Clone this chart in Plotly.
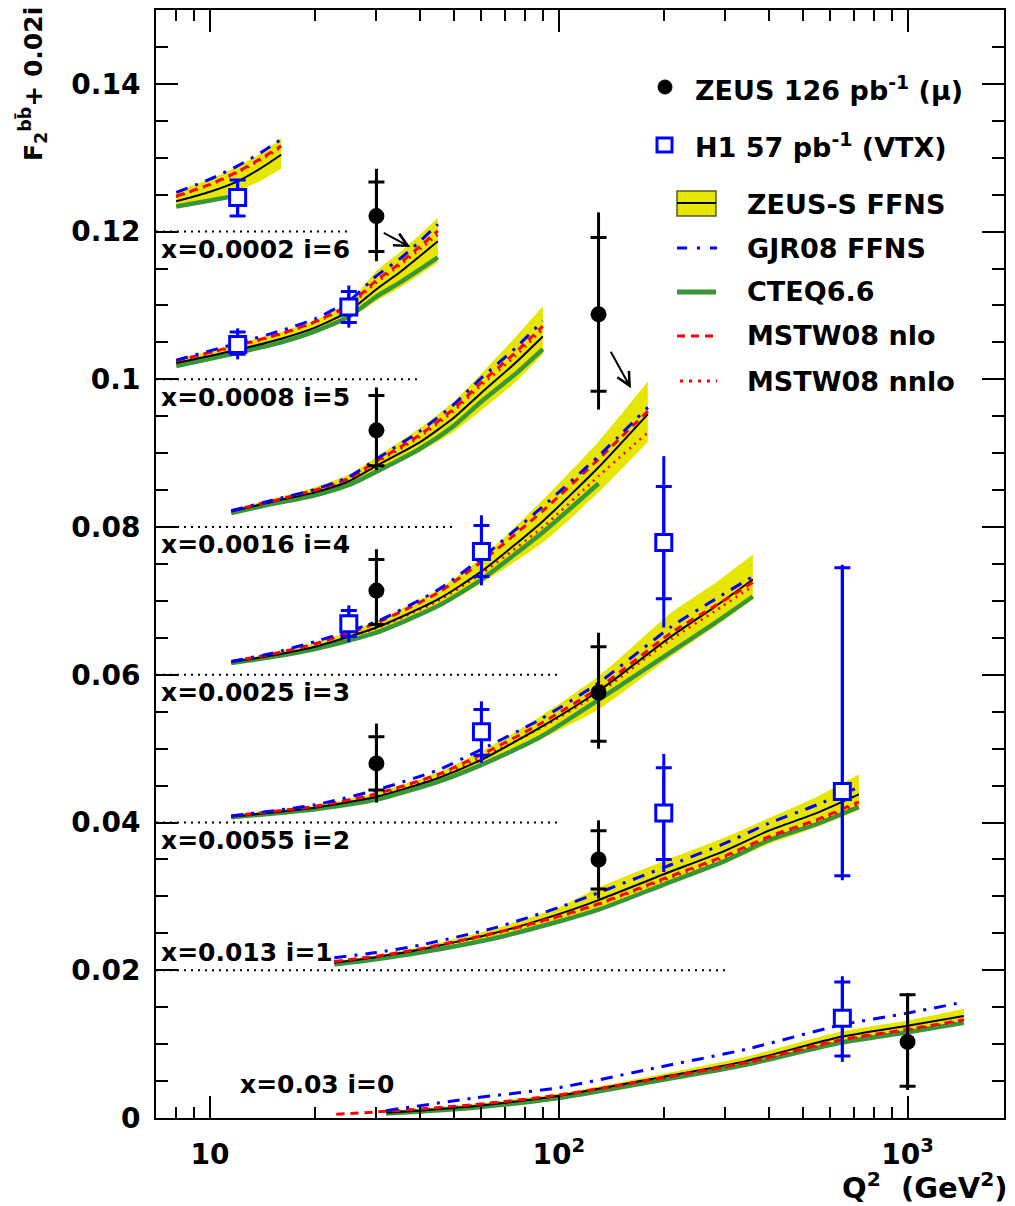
import plotly.graph_objects as go
import math

# ---------------- data ----------------
OFFSET_STEP = 0.02
BIN_LABELS = ["x=0.03 i=0", "x=0.013 i=1", "x=0.0055 i=2", "x=0.0025 i=3",
              "x=0.0016 i=4", "x=0.0008 i=5", "x=0.0002 i=6"]
DOTTED_END_Q2 = [None, 300, 100, 100, 50, 40, 25]

Q2_GRID = [
    [23, 32, 57, 100, 190, 344, 645, 1000, 1450],
    [22.7, 30, 40, 65, 100, 130, 200, 300, 400, 550, 725],
    [11.5, 20, 30, 45, 60, 88, 130, 210, 280, 360],
    [11.5, 15, 20, 30, 45, 60, 90, 130, 180],
    [11.5, 15, 20, 25, 30, 40, 50, 60, 75, 90],
    [8, 12, 16, 20, 25, 30, 35, 40, 45],
    [8, 10, 12, 14, 16],
]

ZEUS_S_CENTRAL = [
    [None, 0.0007, 0.0016, 0.0030, 0.0054, 0.0077, 0.0110, 0.0125, 0.0138],
    [0.0010, 0.0018, 0.0028, 0.0050, 0.0076, 0.0095, 0.0130, 0.0162, 0.0189, 0.0213, 0.0238],
    [0.0008, 0.0020, 0.0035, 0.0060, 0.0085, 0.0128, 0.0178, 0.0252, 0.0292, 0.0329],
    [0.0017, 0.0026, 0.0038, 0.0064, 0.0102, 0.0140, 0.0208, 0.0281, 0.0353],
    [0.0021, 0.0034, 0.0047, 0.0062, 0.0083, 0.0115, 0.0148, 0.0182, 0.0222, 0.0258],
    [0.0022, 0.0040, 0.0055, 0.0070, 0.0092, 0.0122, 0.0145, 0.0167, 0.0187],
    [0.0041, 0.0054, 0.0068, 0.0086, 0.0104],
]
ZEUS_S_LOW = [
    [None, 0.0005, 0.0014, 0.0027, 0.0050, 0.0073, 0.0104, 0.0118, 0.0133],
    [0.0008, 0.0015, 0.0024, 0.0044, 0.0067, 0.0080, 0.0114, 0.0145, 0.0171, 0.0194, 0.0217],
    [0.0006, 0.0017, 0.0030, 0.0053, 0.0075, 0.0112, 0.0153, 0.0225, 0.0265, 0.0302],
    [0.0015, 0.0023, 0.0034, 0.0056, 0.0090, 0.0124, 0.0179, 0.0247, 0.0315],
    [0.0019, 0.0030, 0.0041, 0.0055, 0.0073, 0.0102, 0.0129, 0.0158, 0.0196, 0.0234],
    [0.0017, 0.0034, 0.0048, 0.0062, 0.0082, 0.0106, 0.0124, 0.0142, 0.0158],
    [0.0032, 0.0043, 0.0055, 0.0069, 0.0085],
]
ZEUS_S_HIGH = [
    [None, 0.0009, 0.0019, 0.0033, 0.0058, 0.0083, 0.0117, 0.0132, 0.0148],
    [0.0012, 0.0020, 0.0031, 0.0056, 0.0085, 0.0112, 0.0148, 0.0180, 0.0206, 0.0235, 0.0265],
    [0.0010, 0.0023, 0.0040, 0.0068, 0.0096, 0.0143, 0.0198, 0.0284, 0.0324, 0.0363],
    [0.0019, 0.0029, 0.0043, 0.0073, 0.0115, 0.0158, 0.0237, 0.0316, 0.0397],
    [0.0023, 0.0038, 0.0054, 0.0071, 0.0095, 0.0134, 0.0170, 0.0208, 0.0257, 0.0299],
    [0.0027, 0.0048, 0.0064, 0.0080, 0.0104, 0.0147, 0.0172, 0.0196, 0.0219],
    [0.0055, 0.0071, 0.0088, 0.0106, 0.0126],
]
GJR08 = [
    [None, 0.0010, 0.0027, 0.0041, 0.0068, 0.0093, 0.0126, 0.0142, 0.0157],
    [0.0017, 0.0024, 0.0034, 0.0057, 0.0085, 0.0105, 0.0139, 0.0172, 0.0199, 0.0224, 0.0248],
    [0.0009, 0.0024, 0.0044, 0.0071, 0.0099, 0.0139, 0.0189, 0.0265, 0.0302, 0.0333],
    [0.0018, 0.0029, 0.0045, 0.0072, 0.0115, 0.0158, 0.0228, 0.0296, 0.0362],
    [0.0022, 0.0036, 0.0051, 0.0068, 0.0092, 0.0130, 0.0166, 0.0202, 0.0242, 0.0279],
    [0.0026, 0.0049, 0.0066, 0.0082, 0.0106, 0.0140, 0.0163, 0.0187, 0.0210],
    [0.0053, 0.0071, 0.0089, 0.0107, 0.0125],
]
CTEQ66 = [
    [None, 0.0006, 0.0014, 0.0027, 0.0050, 0.0072, 0.0102, 0.0116, 0.0129],
    [0.0008, 0.0015, 0.0024, 0.0043, 0.0066, 0.0082, 0.0116, 0.0148, 0.0176, 0.0198, 0.0221],
    [0.0007, 0.0018, 0.0031, 0.0055, 0.0078, 0.0115, 0.0166, 0.0231, 0.0270, 0.0306],
    [0.0016, 0.0024, 0.0035, 0.0057, 0.0093, 0.0129, 0.0193, 0.0259, None],
    [0.0019, 0.0031, 0.0043, 0.0057, 0.0075, 0.0106, 0.0137, 0.0170, 0.0207, 0.0241],
    [0.0018, 0.0036, 0.0050, 0.0065, 0.0085, 0.0112, 0.0131, 0.0149, 0.0165],
    [0.0034, 0.0042, 0.0049, None, None],
]
MSTW08_NLO = [
    [0.0005, 0.0009, 0.0018, 0.0031, 0.0053, 0.0075, 0.0106, 0.0120, 0.0133],
    [0.0012, 0.0019, 0.0029, 0.0050, 0.0073, 0.0090, 0.0124, 0.0155, 0.0181, 0.0204, 0.0228],
    [0.0009, 0.0022, 0.0039, 0.0065, 0.0092, 0.0133, 0.0182, 0.0257, 0.0293, 0.0325],
    [0.0018, 0.0028, 0.0042, 0.0070, 0.0111, 0.0153, 0.0222, 0.0292, 0.0357],
    [0.0022, 0.0035, 0.0050, 0.0066, 0.0089, 0.0125, 0.0160, 0.0196, 0.0236, 0.0272],
    [0.0025, 0.0046, 0.0062, 0.0078, 0.0101, 0.0134, 0.0157, 0.0180, 0.0201],
    [0.0048, 0.0064, 0.0081, 0.0099, 0.0116],
]
MSTW08_NNLO = [
    [None, 0.0008, 0.0017, 0.0030, 0.0052, 0.0074, 0.0105, 0.0119, 0.0132],
    [0.0011, 0.0018, 0.0028, 0.0049, 0.0072, 0.0089, 0.0122, 0.0153, 0.0179, 0.0202, 0.0225],
    [0.0008, 0.0021, 0.0037, 0.0062, 0.0088, 0.0127, 0.0175, 0.0248, 0.0286, 0.0320],
    [0.0017, 0.0026, 0.0038, 0.0063, 0.0100, 0.0137, 0.0200, 0.0269, 0.0328],
    [0.0021, 0.0035, 0.0049, 0.0065, 0.0087, 0.0122, 0.0157, 0.0192, 0.0231, 0.0268],
    [0.0024, 0.0045, 0.0061, 0.0077, 0.0099, 0.0131, 0.0154, 0.0176, 0.0196],
    [0.0047, 0.0063, 0.0080, 0.0097, 0.0114],
]

# ZEUS 126 pb-1 (muons)
ZEUS_BIN = [6, 5, 4, 3, 2, 2, 1, 0]
ZEUS_Q2 = [30, 130, 30, 30, 30, 130, 130, 1000]
ZEUS_F2 = [0.0021, 0.0088, 0.0131, 0.0114, 0.0080, 0.0176, 0.0150, 0.0103]
ZEUS_STAT_UP = [0.0046, 0.0104, 0.0047, 0.0042, 0.0036, 0.0062, 0.0039, 0.0064]
ZEUS_STAT_DN = [0.0048, 0.0104, 0.0048, 0.0046, 0.0036, 0.0066, 0.0040, 0.0060]
ZEUS_TOT_UP = [0.0064, 0.0138, 0.0058, 0.0056, 0.0054, 0.0081, 0.0053, 0.0066]
ZEUS_TOT_DN = [0.0061, 0.0129, 0.0054, 0.0050, 0.0053, 0.0076, 0.0053, 0.0065]

# H1 57 pb-1 (VTX)
H1_BIN = [6, 5, 5, 3, 3, 3, 2, 1, 1, 0]
H1_Q2 = [12, 12, 25, 25, 60, 200, 60, 200, 650, 650]
H1_F2 = [0.0046, 0.0047, 0.0098, 0.0069, 0.0167, 0.0179, 0.0123, 0.0213, 0.0242, 0.0135]
H1_STAT_UP = [0.0024, 0.0017, 0.0021, 0.0018, 0.0035, 0.0076, 0.0030, 0.0061, 0.0303, 0.0049]
H1_STAT_DN = [0.0025, 0.0013, 0.0021, 0.0017, 0.0034, 0.0076, 0.0032, 0.0063, 0.0114, 0.0051]
H1_TOT_UP = [0.0024, 0.0022, 0.0029, 0.0025, 0.0049, 0.0117, 0.0041, 0.0080, 0.0307, 0.0057]
H1_TOT_DN = [0.0025, 0.0020, 0.0028, 0.0025, 0.0046, 0.0115, 0.0042, 0.0080, 0.0120, 0.0059]

# ---------------- style ----------------
FONT = "DejaVu Sans"
YELLOW = "rgb(230,230,0)"
GREEN = "rgb(55,150,55)"
BLUE = "rgb(0,0,255)"
RED = "rgb(255,0,0)"
X_MIN, X_MAX = 7.0, 1890.0
SMOOTH = 0.6

fig = go.Figure()


def shifted(vals, i):
    return [None if v is None else v + OFFSET_STEP * i for v in vals]


# dotted baselines
for i, qend in enumerate(DOTTED_END_Q2):
    if qend is None:
        continue
    fig.add_trace(go.Scatter(x=[X_MIN, qend], y=[OFFSET_STEP * i] * 2, mode="lines",
                             line=dict(color="black", width=2, dash="2px,5px"),
                             showlegend=False, hoverinfo="skip"))

# bands (lower edge, then upper edge filled to it)
for i in range(7):
    q = Q2_GRID[i]
    pairs = [(qq, lo + OFFSET_STEP * i, hi + OFFSET_STEP * i)
             for qq, lo, hi in zip(q, ZEUS_S_LOW[i], ZEUS_S_HIGH[i])
             if lo is not None and hi is not None]
    bx = [p[0] for p in pairs]
    fig.add_trace(go.Scatter(x=bx, y=[p[1] for p in pairs], mode="lines",
                             line=dict(width=0, color=YELLOW, shape="spline", smoothing=SMOOTH),
                             showlegend=False, hoverinfo="skip"))
    fig.add_trace(go.Scatter(x=bx, y=[p[2] for p in pairs], mode="lines", fill="tonexty",
                             fillcolor=YELLOW,
                             line=dict(width=0, color=YELLOW, shape="spline", smoothing=SMOOTH),
                             showlegend=False, hoverinfo="skip"))

# curves
for i in range(7):
    q = Q2_GRID[i]
    fig.add_trace(go.Scatter(x=q, y=shifted(CTEQ66[i], i), mode="lines",
                             line=dict(color=GREEN, width=4.5, shape="spline", smoothing=SMOOTH),
                             showlegend=False))
    fig.add_trace(go.Scatter(x=q, y=shifted(MSTW08_NNLO[i], i), mode="lines",
                             line=dict(color=RED, width=2.5, dash="2px,5px", shape="spline",
                                       smoothing=SMOOTH), showlegend=False))
    fig.add_trace(go.Scatter(x=q, y=shifted(ZEUS_S_CENTRAL[i], i), mode="lines",
                             line=dict(color="black", width=2, shape="spline", smoothing=SMOOTH),
                             showlegend=False))
    fig.add_trace(go.Scatter(x=q, y=shifted(MSTW08_NLO[i], i), mode="lines",
                             line=dict(color=RED, width=3, dash="8px,6px", shape="spline",
                                       smoothing=SMOOTH), showlegend=False))
    fig.add_trace(go.Scatter(x=q, y=shifted(GJR08[i], i), mode="lines",
                             line=dict(color=BLUE, width=3, dash="12px,8px,3px,8px",
                                       shape="spline", smoothing=SMOOTH),
                             showlegend=False))

# data points
zeus_y = [v + OFFSET_STEP * b for v, b in zip(ZEUS_F2, ZEUS_BIN)]
h1_y = [v + OFFSET_STEP * b for v, b in zip(H1_F2, H1_BIN)]

fig.add_trace(go.Scatter(x=ZEUS_Q2, y=zeus_y, mode="markers",
                         marker=dict(size=2, color="rgba(0,0,0,0)"),
                         error_y=dict(type="data", symmetric=False, array=ZEUS_TOT_UP,
                                      arrayminus=ZEUS_TOT_DN, color="black", thickness=3, width=0),
                         showlegend=False))
fig.add_trace(go.Scatter(x=ZEUS_Q2, y=zeus_y, mode="markers",
                         marker=dict(size=16, color="black", symbol="circle"),
                         error_y=dict(type="data", symmetric=False, array=ZEUS_STAT_UP,
                                      arrayminus=ZEUS_STAT_DN, color="black", thickness=3, width=8),
                         showlegend=False))
fig.add_trace(go.Scatter(x=H1_Q2, y=h1_y, mode="markers",
                         marker=dict(size=2, color="rgba(0,0,0,0)"),
                         error_y=dict(type="data", symmetric=False, array=H1_TOT_UP,
                                      arrayminus=H1_TOT_DN, color=BLUE, thickness=3, width=0),
                         showlegend=False))
fig.add_trace(go.Scatter(x=H1_Q2, y=h1_y, mode="markers",
                         marker=dict(size=16, color="white", symbol="square",
                                     line=dict(color=BLUE, width=3)),
                         error_y=dict(type="data", symmetric=False, array=H1_STAT_UP,
                                      arrayminus=H1_STAT_DN, color=BLUE, thickness=3, width=8),
                         showlegend=False))

# ---------------- layout ----------------
L, R, T, B = 156, 11, 10, 88
W, H = 1015, 1206
PW, PH = W - L - R, H - T - B


def px(xp):
    return (xp - L) / PW


def py(yp):
    return (H - B - yp) / PH


ann = []
shapes = []
LAB_FONT = dict(family=FONT, size=25, color="black", weight="bold")

# bin labels
for i, lab in enumerate(BIN_LABELS):
    if i == 0:
        ann.append(dict(text=lab, xref="paper", yref="y", x=px(238), y=0.0045,
                        xanchor="left", yanchor="middle", showarrow=False, font=LAB_FONT))
    elif i == 1:
        ann.append(dict(text=lab, xref="paper", yref="y", x=px(159), y=OFFSET_STEP * i + 0.0024,
                        xanchor="left", yanchor="middle", showarrow=False, font=LAB_FONT))
    else:
        ann.append(dict(text=lab, xref="paper", yref="y", x=px(159), y=OFFSET_STEP * i - 0.0024,
                        xanchor="left", yanchor="middle", showarrow=False, font=LAB_FONT))

# arrows
ann.append(dict(text="", x=math.log10(37.5), y=0.1179, xref="x", yref="y",
                showarrow=True, ax=-28, ay=-15, arrowhead=5, arrowsize=1.3,
                arrowwidth=2, arrowcolor="black", standoff=0))
ann.append(dict(text="", x=math.log10(161), y=0.0988, xref="x", yref="y",
                showarrow=True, ax=-21, ay=-38, arrowhead=5, arrowsize=1.3,
                arrowwidth=2, arrowcolor="black", standoff=0))

# legend
LEG_FONT = dict(family=FONT, size=27, color="black", weight="bold")
ann.append(dict(text="ZEUS 126 pb<sup>-1</sup> (μ)", xref="paper", yref="paper",
                x=px(693), y=py(88), xanchor="left", yanchor="middle", showarrow=False,
                font=LEG_FONT))
ann.append(dict(text="H1 57 pb<sup>-1</sup> (VTX)", xref="paper", yref="paper",
                x=px(693), y=py(146), xanchor="left", yanchor="middle", showarrow=False,
                font=LEG_FONT))
for yy, lab in [(204, "ZEUS-S FFNS"), (248, "GJR08 FFNS"), (292, "CTEQ6.6"),
                (336, "MSTW08 nlo"), (381, "MSTW08 nnlo")]:
    ann.append(dict(text=lab, xref="paper", yref="paper", x=px(745), y=py(yy),
                    xanchor="left", yanchor="middle", showarrow=False, font=LEG_FONT))

shapes.append(dict(type="circle", xref="paper", yref="paper", x0=px(658), x1=px(672),
                   y0=py(94), y1=py(80), fillcolor="black", line=dict(color="black", width=1)))
shapes.append(dict(type="rect", xref="paper", yref="paper", x0=px(657), x1=px(672),
                   y0=py(152), y1=py(138), fillcolor="white", line=dict(color=BLUE, width=3)))
shapes.append(dict(type="rect", xref="paper", yref="paper", x0=px(677), x1=px(716),
                   y0=py(216), y1=py(191), fillcolor=YELLOW, line=dict(color="rgb(90,90,40)", width=1.5)))
shapes.append(dict(type="line", xref="paper", yref="paper", x0=px(677), x1=px(716),
                   y0=py(203), y1=py(203), line=dict(color="black", width=2)))
shapes.append(dict(type="line", xref="paper", yref="paper", x0=px(677), x1=px(717),
                   y0=py(248), y1=py(248), line=dict(color=BLUE, width=3, dash="10px,10px,3px,10px")))
shapes.append(dict(type="line", xref="paper", yref="paper", x0=px(677), x1=px(716),
                   y0=py(292), y1=py(292), line=dict(color=GREEN, width=5)))
shapes.append(dict(type="line", xref="paper", yref="paper", x0=px(677), x1=px(717),
                   y0=py(336), y1=py(336), line=dict(color=RED, width=3, dash="8px,6px")))
shapes.append(dict(type="line", xref="paper", yref="paper", x0=px(680), x1=px(717),
                   y0=py(381), y1=py(381), line=dict(color=RED, width=3, dash="3px,6px")))

# axis titles
ann.append(dict(text="Q<sup>2</sup>  (GeV<sup>2</sup>)", xref="paper", yref="paper",
                x=px(1010), y=py(1186), xanchor="right", yanchor="middle", showarrow=False,
                font=dict(family=FONT, size=29, color="black", weight="bold")))
ann.append(dict(text="F<sub>2</sub><sup>bb̄</sup>+ 0.02i", xref="paper", yref="paper",
                x=px(33), y=py(5), xanchor="center", yanchor="top", textangle=-90,
                showarrow=False,
                font=dict(family=FONT, size=25, color="black", weight="bold")))

TICK_FONT = dict(family=FONT, size=28, color="black", weight="bold")
fig.update_layout(
    width=W, height=H, margin=dict(l=L, r=R, t=T, b=B, pad=0, autoexpand=False),
    paper_bgcolor="white", plot_bgcolor="white", showlegend=False,
    annotations=ann, shapes=shapes,
    xaxis=dict(type="log", range=[math.log10(X_MIN), math.log10(X_MAX)], automargin=False,
               showgrid=False, zeroline=False, showline=True, linecolor="black",
               linewidth=2, mirror="ticks", ticks="inside", ticklen=22, tickwidth=2,
               tickcolor="black", tickmode="array", tickvals=[10, 100, 1000],
               ticktext=["10", "10<sup>2</sup>", "10<sup>3</sup>"], tickfont=TICK_FONT,
               ticklabelstandoff=10,
               minor=dict(tickmode="array",
                          tickvals=[8, 9, 20, 30, 40, 50, 60, 70, 80, 90,
                                    200, 300, 400, 500, 600, 700, 800, 900],
                          ticks="inside", ticklen=11, tickwidth=2, tickcolor="black",
                          showgrid=False)),
    yaxis=dict(range=[0, 0.15], automargin=False, showgrid=False, zeroline=False, showline=True,
               linecolor="black", linewidth=2, mirror="ticks", ticks="inside",
               ticklen=22, tickwidth=2, tickcolor="black", tick0=0, dtick=0.02,
               tickfont=TICK_FONT, ticklabelstandoff=8,
               minor=dict(dtick=0.005, tick0=0, ticks="inside", ticklen=12, tickwidth=2,
                          tickcolor="black", showgrid=False)),
)

fig.write_html("out.html", config={"displayModeBar": False},
               post_script="document.body.style.margin='0';document.body.style.overflow='hidden';")
